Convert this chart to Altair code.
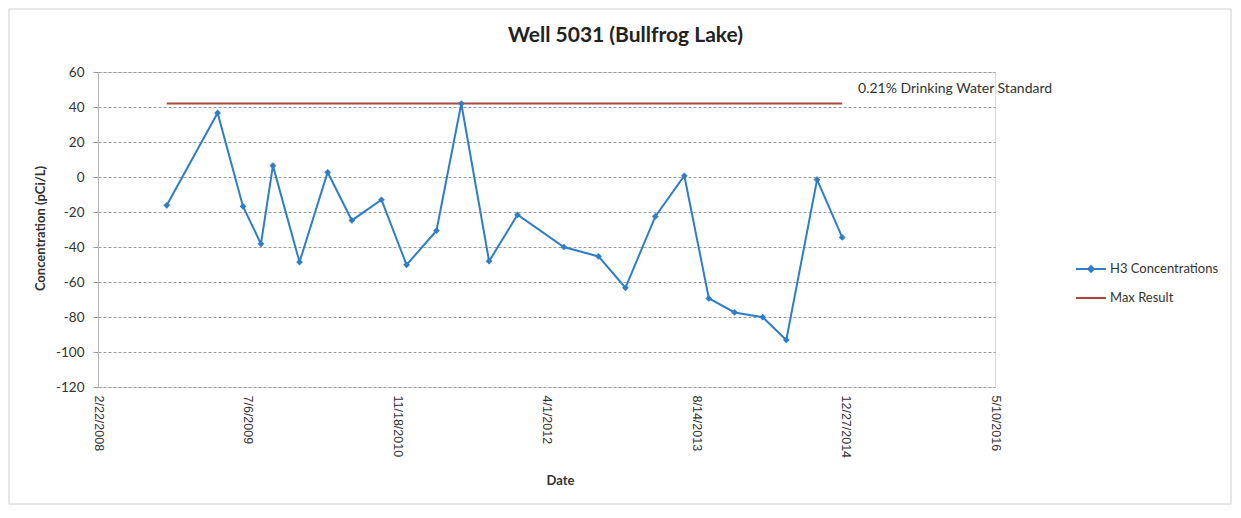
import altair as alt
import pandas as pd

# ---- data ----
sample_dates = ["2008-10-09", "2009-03-28", "2009-06-21", "2009-08-20", "2009-09-29",
                "2009-12-27", "2010-03-31", "2010-06-20", "2010-09-27", "2010-12-20",
                "2011-03-30", "2011-06-21", "2011-09-22", "2011-12-26", "2012-05-29",
                "2012-09-22", "2012-12-21", "2013-03-31", "2013-07-06", "2013-09-26",
                "2013-12-21", "2014-03-25", "2014-06-12", "2014-09-23", "2014-12-16"]
h3_values = [-16.2, 36.6, -16.8, -38.2, 6.5, -48.6, 2.7, -24.8, -13.0, -50.2,
             -30.7, 42.0, -48.1, -21.6, -40.0, -45.4, -63.3, -22.5, 0.7, -69.4,
             -77.4, -80.1, -93.1, -1.5, -34.5]
max_result_value = 42.0
max_result_dates = [sample_dates[0], sample_dates[-1]]
series_names = ["H3 Concentrations", "Max Result"]
x_tick_dates = ["2008-02-22", "2009-07-06", "2010-11-18", "2012-04-01",
                "2013-08-14", "2014-12-27", "2016-05-10"]
y_ticks = [60, 40, 20, 0, -20, -40, -60, -80, -100, -120]
annotation_text = ["0.21% Drinking Water Standard"]
annotation_date = ["2015-02-07"]
annotation_value = [50.5]

BLUE = "#2f7dc6"
BROWN = "#a8473a"
GRID = "#9a9a9a"
TXT = "#333333"

def ms(d):
    return int(pd.Timestamp(d).value // 10**6)

x_tick_ms = [ms(d) for d in x_tick_dates]

h3_df = pd.DataFrame({"date": sample_dates, "value": h3_values, "series": series_names[0]})
max_df = pd.DataFrame({"date": max_result_dates, "value": [max_result_value] * 2,
                       "series": series_names[1]})
lines_df = pd.concat([h3_df, max_df], ignore_index=True)
ann_df = pd.DataFrame({"date": annotation_date, "value": annotation_value, "text": annotation_text})

x_enc = alt.X(
    "date:T",
    scale=alt.Scale(type="utc", domain=[x_tick_ms[0], x_tick_ms[-1]], nice=False),
    axis=alt.Axis(
        values=x_tick_ms,
        labelExpr="utcFormat(datum.value, '%-m/%-d/%Y')",
        labelAngle=90, labelAlign="left", labelBaseline="middle",
        labelPadding=8, labelFont="Liberation Sans", labelFontSize=12.5,
        labelColor=TXT, labelOverlap=False, labelFlush=False, labelBound=False,
        ticks=False, domain=False, grid=False,
        title="Date", titleFont="Lato", titleFontSize=13, titleFontWeight="bold",
        titleColor=TXT, titleX=462, titleY=93, titleBaseline="middle", titleAlign="center",
    ),
)
y_enc = alt.Y(
    "value:Q",
    scale=alt.Scale(domain=[-120, 60], nice=False, zero=False),
    axis=alt.Axis(
        values=y_ticks, labelExpr="datum.value + ''",
        grid=True, gridColor=GRID, gridDash=[3, 2], gridWidth=1,
        tickSize=5, tickColor=GRID, domainColor="#b5b5b5",
        labelPadding=9, labelFont="Lato", labelFontSize=13.5, labelColor=TXT,
        title="Concentration (pCi/L)", titleFont="Lato", titleFontSize=13,
        titleFontWeight="bold", titleColor=TXT, titleAngle=-90,
        titleX=-58, titleY=156, titleBaseline="middle", titleAlign="center",
    ),
)

color_scale = alt.Scale(domain=series_names, range=[BLUE, BROWN])
line_path = "M-1,-0.07L1,-0.07L1,0.07L-1,0.07Z"
diamond_line_path = line_path + "M0,-0.28L0.28,0L0,0.28L-0.28,0Z"
shape_scale = alt.Scale(domain=series_names, range=[diamond_line_path, line_path])

legend_def = dict(title=None, orient="none", legendX=977, legendY=181, symbolSize=900,
                  labelFont="Lato", labelFontSize=13, labelColor=TXT, labelOffset=3,
                  rowPadding=5, padding=0, symbolOpacity=1)

h3_line = alt.Chart(h3_df).mark_line(strokeWidth=2, color=BLUE).encode(x=x_enc, y=y_enc)
max_line = alt.Chart(max_df).mark_line(strokeWidth=2, color=BROWN).encode(x=x_enc, y=y_enc)

points = alt.Chart(h3_df).mark_point(shape="diamond", filled=True, size=45,
                                     color=BLUE, opacity=1).encode(x=x_enc, y=y_enc)

# invisible marks that only carry the legend (line + diamond symbols)
legend_layer = alt.Chart(lines_df).mark_point(filled=True, opacity=0).encode(
    x=x_enc, y=y_enc,
    color=alt.Color("series:N", scale=color_scale, legend=alt.Legend(**legend_def)),
    shape=alt.Shape("series:N", scale=shape_scale, legend=alt.Legend(**legend_def)),
)

annotation = alt.Chart(ann_df).mark_text(
    align="left", baseline="middle", font="Lato", fontSize=14, color=TXT
).encode(x=x_enc, y=y_enc, text="text:N")

border = alt.Chart(pd.DataFrame({"a": [0]})).mark_rect(
    fillOpacity=0, stroke="#cfcfcf", strokeWidth=1
).encode(x=alt.value(-89), x2=alt.value(1133), y=alt.value(-63), y2=alt.value(432))

chart = alt.layer(border, max_line, h3_line, points, annotation, legend_layer).properties(
    width=897, height=315,
    title=alt.Title("Well 5031 (Bullfrog Lake)", font="Lato", fontSize=21,
                    fontWeight="bold", color="#222222", anchor="middle", dx=79,
                    offset=-37, frame="group"),
    autosize=alt.AutoSizeParams(type="none"),
    padding={"left": 90, "top": 64, "right": 238, "bottom": 118},
).configure_view(stroke=None).configure(background="white")

chart.save("out.html", embed_options={"renderer": "svg", "actions": False})
